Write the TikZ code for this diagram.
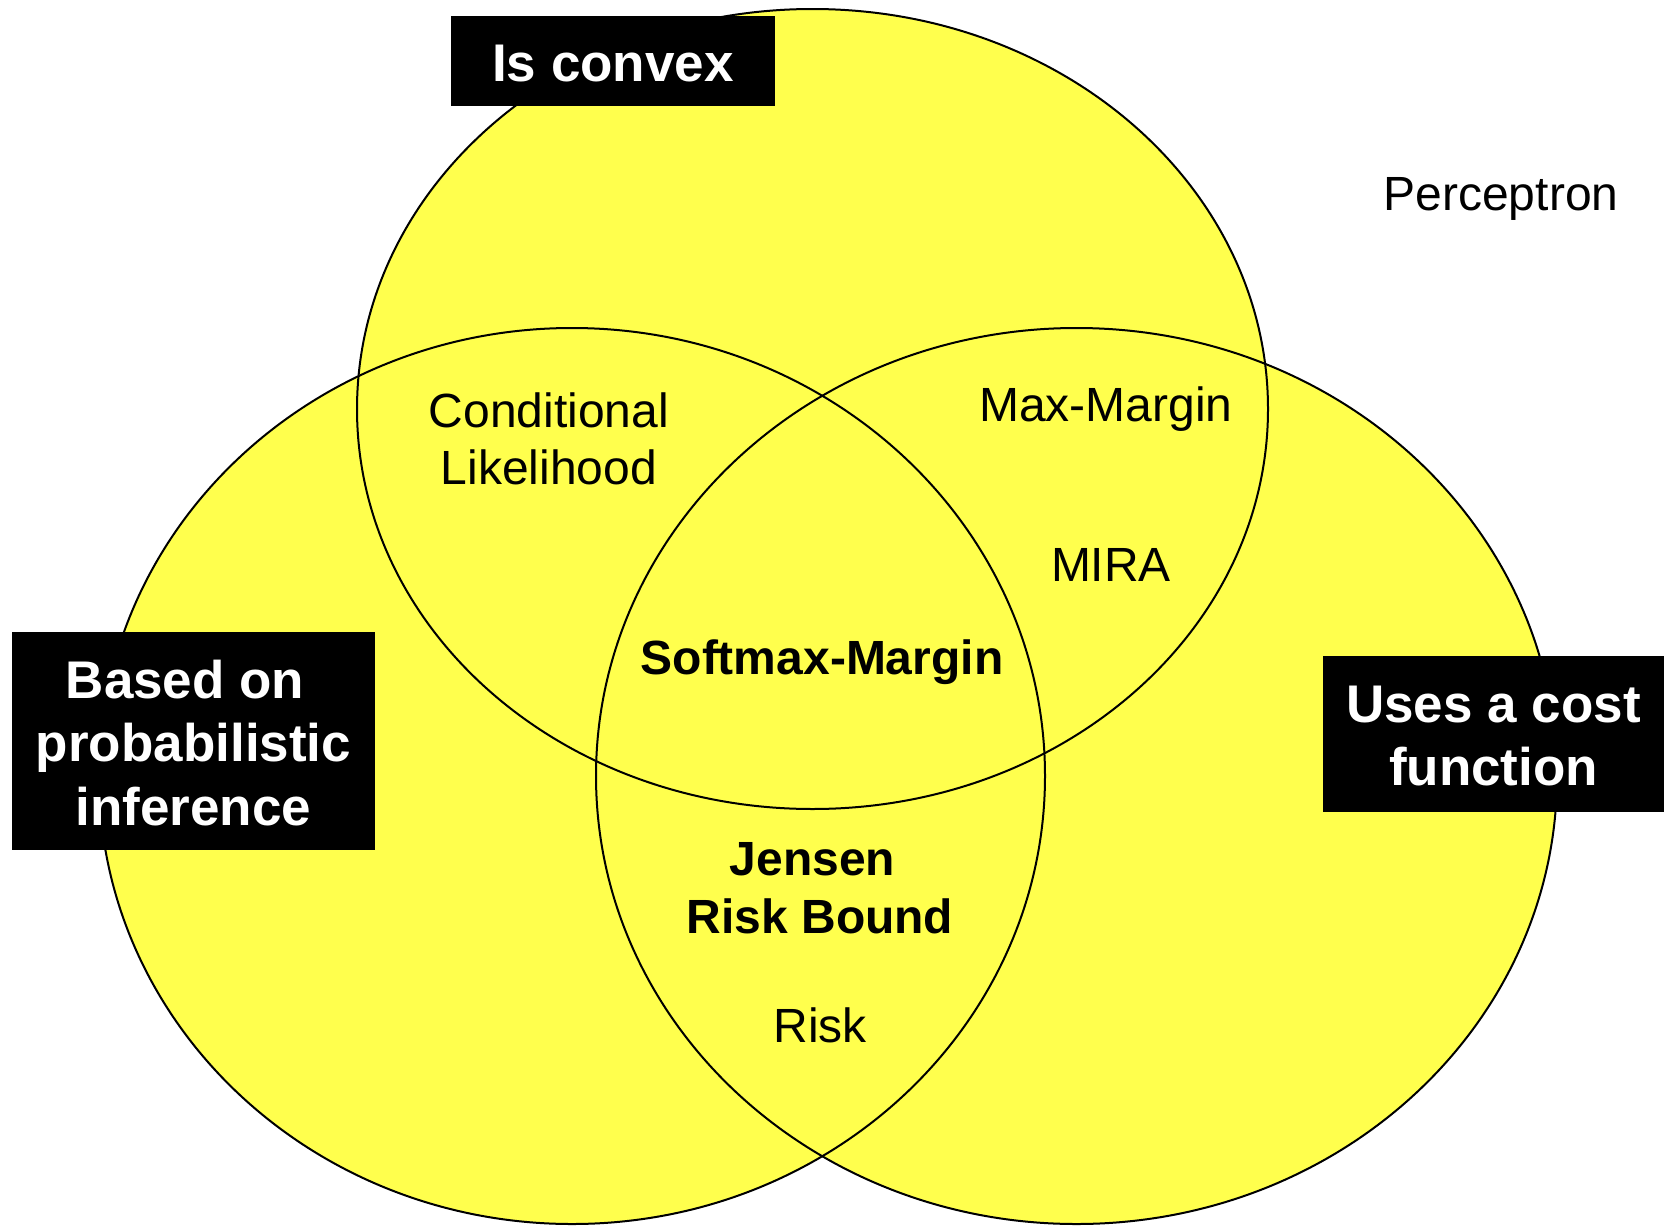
\documentclass[tikz,border=0pt]{standalone}
\usepackage{fontspec}
\setmainfont{Liberation Sans}
\definecolor{setyellow}{HTML}{FFFF4D}
\begin{document}
\begin{tikzpicture}[x=0.5pt,y=-0.5pt,
  setfill/.style={fill=setyellow},
  setline/.style={draw=black,line width=1pt},
  tagbox/.style={fill=black,inner sep=0pt},
  tagtext/.style={text=white,inner sep=0pt,align=center,
    font=\fontsize{26.5}{31.8}\selectfont\bfseries},
  item/.style={inner sep=0pt,align=center,font=\fontsize{24}{28.8}\selectfont},
  keyitem/.style={inner sep=0pt,align=center,font=\fontsize{24}{28.8}\selectfont\bfseries}]
\useasboundingbox (0,0) rectangle (1664,1226);

% the three sets: fills first, outlines on top
\fill[setfill] (812.5,409) ellipse [x radius=455.5, y radius=400];
\fill[setfill] (572,776) ellipse [x radius=473, y radius=448];
\fill[setfill] (1076.5,776) ellipse [x radius=480.5, y radius=448];
\draw[setline] (812.5,409) ellipse [x radius=455.5, y radius=400];
\draw[setline] (572,776) ellipse [x radius=473, y radius=448];
\draw[setline] (1076.5,776) ellipse [x radius=480.5, y radius=448];

% set captions: black boxes with white text
\node[tagbox, minimum width=162pt, minimum height=45pt] (convexbox) at (613,61) {};
\node[tagtext] (convex) at (613,64) {Is convex};
\node[tagbox, minimum width=181.5pt, minimum height=109pt] (probbox) at (193.5,741) {};
\node[tagtext] (prob) at (193.5,743) {Based on\rule{0.32em}{0pt}\\probabilistic\\inference};
\node[tagbox, minimum width=170.5pt, minimum height=78pt] (costbox) at (1493.5,734) {};
\node[tagtext] (cost) at (1493.5,736) {Uses a cost\\function};

% methods
\node[item] (perceptron) at (1501,199) {Perceptron};
\node[item] (condlik) at (549,439) {Conditional\\Likelihood};
\node[item] (maxmargin) at (1106,409) {Max-Margin};
\node[item] (mira) at (1111,565) {MIRA};
\node[keyitem] (softmax) at (822,662) {Softmax-Margin};
\node[keyitem] (jensen) at (820,888) {Jensen\rule{7.5pt}{0pt}\\Risk Bound};
\node[item] (risk) at (820,1025) {Risk};
\end{tikzpicture}
\end{document}
